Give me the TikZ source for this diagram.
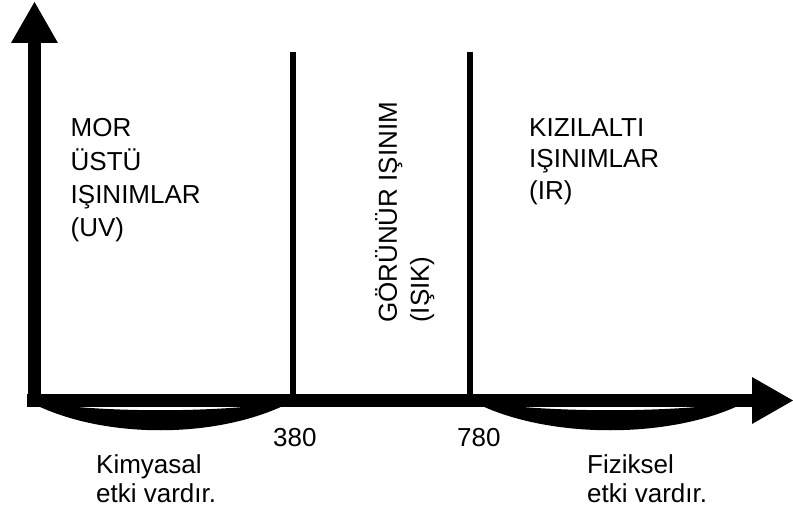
\documentclass[tikz,border=0pt]{standalone}
\usepackage{fontspec}
\setmainfont{Liberation Sans}
\usetikzlibrary{arrows.meta}
\usetikzlibrary{positioning}

\begin{document}
\begin{tikzpicture}[x=1pt,y=-1pt]
\tikzstyle{every node}=[inner sep=0pt,font=\fontsize{26}{33}\selectfont]
\tikzset{axe/.style={line width=12.5pt,-{Triangle[width=47pt,length=41pt,line width=0pt]}},
	borne/.style={line width=6pt},
	bloc/.style={anchor=north west,align=left}}
\useasboundingbox (0,0) rectangle (793,516);

% Axes
\coordinate (O) at (34.5,406.5);
\coordinate (Ytop) at (34.5,2);
\coordinate (X0) at (27,400.5);
\coordinate (Xend) at (793,400.5);
\draw[axe] (O) -- (Ytop);
\draw[axe] (X0) -- (Xend);

% Limites 380 / 780
\coordinate (h380) at (293,52);
\coordinate (b380) at (293,401);
\coordinate (h780) at (470,52);
\coordinate (b780) at (470,401);
\draw[borne] (h380) -- (b380);
\draw[borne] (h780) -- (b780);

% Arcs sous l'axe
\fill (28,401) .. controls (100,440) and (220,440) .. (293,401)
	.. controls (220,413.3) and (100,413.3) .. (28,401) -- cycle;
\fill (472,401) .. controls (545,440) and (675,440) .. (748,401)
	.. controls (675,413.3) and (545,413.3) .. (472,401) -- cycle;

% Domaines
\node[bloc,font=\fontsize{26}{33.3}\selectfont] (uv) at (70.5,118.4) {MOR\\ÜSTÜ\\IŞINIMLAR\\(UV)};
\node[bloc,rotate=90,font=\fontsize{26}{32}\selectfont] (isik) at (375,323) {GÖRÜNÜR IŞINIM\\(IŞIK)};
\node[bloc,font=\fontsize{26}{31.5}\selectfont] (ir) at (529,118.4) {KIZILALTI\\IŞINIMLAR\\(IR)};

% Valeurs
\node[anchor=base west] (n380) at (273,446) {380};
\node[anchor=base west] (n780) at (457,446) {780};

% Effets
\node[bloc,font=\fontsize{26}{29}\selectfont] (kim) at (96,454.4) {Kimyasal\\etki vardır.};
\node[bloc,font=\fontsize{26}{29}\selectfont] (fiz) at (587,454.4) {Fiziksel\\etki vardır.};
\end{tikzpicture}
\end{document}
